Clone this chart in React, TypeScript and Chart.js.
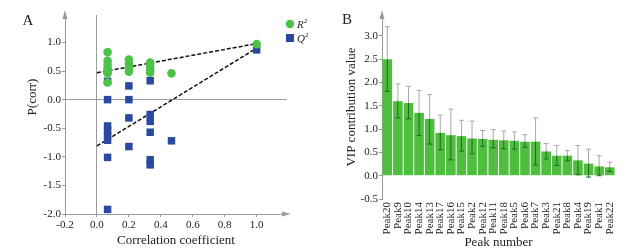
import React, { useEffect, useRef } from "react";
import { Chart, registerables } from "chart.js";
Chart.register(...registerables);

// ---------- Panel A data ----------
const r2X = [1/15, 1/15, 1/15, 1/15, 1/15, 1/15, 1/15, 0.2, 0.2, 0.2, 0.2, 1/3, 1/3, 1/3, 1/3, 7/15, 1];
const r2Y = [0.83, 0.68, 0.61, 0.55, 0.50, 0.46, 0.30, 0.70, 0.63, 0.55, 0.49, 0.65, 0.58, 0.52, 0.47, 0.46, 0.97];
const q2X = [1/15, 1/15, 1/15, 1/15, 1/15, 1/15, 1/15, 1/15, 0.2, 0.2, 0.2, 0.2, 1/3, 1/3, 1/3, 1/3, 1/3, 1/3, 7/15, 1];
const q2Y = [0.32, 0.0, -0.46, -0.54, -0.63, -0.71, -1.01, -1.92, 0.24, 0.0, -0.32, -0.82, 0.33, -0.26, -0.38, -0.57, -1.05, -1.14, -0.72, 0.87];
const r2LineX = [0, 1];
const r2LineY = [0.47, 0.98];
const q2LineX = [0, 1];
const q2LineY = [-0.81, 0.9];
const xTicksA = [-0.2, 0.0, 0.2, 0.4, 0.6, 0.8, 1.0];
const yTicksA = [-2.0, -1.5, -1.0, -0.5, 0.0, 0.5, 1.0];

// ---------- Panel B data ----------
const peaks = ["Peak20", "Peak9", "Peak10", "Peak14", "Peak13", "Peak17", "Peak16", "Peak15", "Peak2", "Peak12", "Peak11", "Peak18", "Peak5", "Peak6", "Peak7", "Peak3", "Peak21", "Peak8", "Peak4", "Peak19", "Peak1", "Peak22"];
const vip = [2.5, 1.6, 1.56, 1.35, 1.22, 0.92, 0.87, 0.85, 0.80, 0.79, 0.77, 0.76, 0.75, 0.73, 0.73, 0.52, 0.43, 0.43, 0.33, 0.26, 0.20, 0.18];
const vipUpper = [3.2, 1.97, 1.92, 1.83, 1.74, 1.3, 1.43, 1.19, 1.17, 0.97, 0.99, 0.96, 0.94, 0.88, 1.24, 0.69, 0.65, 0.54, 0.65, 0.57, 0.43, 0.29];
const vipLower = [1.81, 1.24, 1.22, 0.86, 0.68, 0.56, 0.34, 0.53, 0.47, 0.63, 0.6, 0.58, 0.57, 0.61, 0.23, 0.36, 0.22, 0.32, 0.02, -0.03, 0.0, 0.09];
const yTicksB = [-0.5, 0.0, 0.5, 1.0, 1.5, 2.0, 2.5, 3.0];

const SERIF = "'Liberation Serif', 'DejaVu Serif', serif";
const AXIS_GRAY = "#9a9a9a";
const TEXT = "#222222";
const GREEN_PT = "#4cc24a";
const BLUE_PT = "#2a4a9e";
const BAR_GREEN = "#4fbe3f";
const ERR_DARK = "#1f6a22";

function arrowPlugin(drawX: boolean) {
  return {
    id: "arrows",
    afterDraw(chart: any) {
      const { ctx, chartArea } = chart;
      ctx.save();
      ctx.fillStyle = AXIS_GRAY;
      ctx.strokeStyle = AXIS_GRAY;
      ctx.lineWidth = 1;
      const l = chartArea.left;
      ctx.beginPath();
      ctx.moveTo(l, chartArea.top - 5);
      ctx.lineTo(l - 2.5, chartArea.top + 4);
      ctx.lineTo(l + 2.5, chartArea.top + 4);
      ctx.closePath();
      ctx.fill();
      if (drawX) {
        const b = chartArea.bottom;
        const r = chartArea.right;
        ctx.beginPath();
        ctx.moveTo(r + 4, b);
        ctx.lineTo(r - 5, b - 2.5);
        ctx.lineTo(r - 5, b + 2.5);
        ctx.closePath();
        ctx.fill();
      }
      ctx.restore();
    },
  };
}

function textPlugin(items: { text: string; x: number; y: number; size: number; rot?: number }[]) {
  return {
    id: "texts",
    afterDraw(chart: any) {
      const { ctx } = chart;
      ctx.save();
      ctx.fillStyle = TEXT;
      ctx.textAlign = "center";
      ctx.textBaseline = "middle";
      for (const it of items) {
        ctx.save();
        ctx.translate(it.x, it.y);
        if (it.rot) ctx.rotate(it.rot);
        ctx.font = `${it.size}px ${SERIF}`;
        ctx.fillText(it.text, 0, 0);
        ctx.restore();
      }
      ctx.restore();
    },
  };
}

const legendPlugin = {
  id: "legendA",
  afterDraw(chart: any) {
    const { ctx } = chart;
    ctx.save();
    const items = [
      { label: chart.data.datasets[0].label, color: GREEN_PT, shape: "circle", y: 24 },
      { label: chart.data.datasets[1].label, color: BLUE_PT, shape: "rect", y: 38 },
    ];
    for (const it of items) {
      ctx.fillStyle = it.color;
      if (it.shape === "circle") {
        ctx.beginPath();
        ctx.arc(290, it.y, 4.2, 0, Math.PI * 2);
        ctx.fill();
      } else {
        ctx.fillRect(286, it.y - 4, 8, 8);
      }
      ctx.fillStyle = TEXT;
      ctx.textBaseline = "middle";
      ctx.textAlign = "left";
      ctx.font = `italic 11px ${SERIF}`;
      const main = it.label.charAt(0);
      ctx.fillText(main, 297, it.y + 1);
      const w = ctx.measureText(main).width;
      ctx.font = `7px ${SERIF}`;
      ctx.fillText("2", 297 + w, it.y - 3);
    }
    ctx.restore();
  },
};

const errorBarPlugin = {
  id: "errorBars",
  afterDatasetsDraw(chart: any) {
    const { ctx } = chart;
    const meta = chart.getDatasetMeta(0);
    const yScale = chart.scales.y;
    ctx.save();
    ctx.lineWidth = 1;
    meta.data.forEach((bar: any, i: number) => {
      const x = bar.x;
      const yTop = yScale.getPixelForValue(vip[i]);
      const yU = yScale.getPixelForValue(vipUpper[i]);
      const yL = yScale.getPixelForValue(vipLower[i]);
      const cap = 2.5;
      ctx.strokeStyle = "#a8a8a8";
      ctx.beginPath();
      ctx.moveTo(x, yTop);
      ctx.lineTo(x, yU);
      ctx.moveTo(x - cap, yU);
      ctx.lineTo(x + cap, yU);
      ctx.stroke();
      ctx.strokeStyle = ERR_DARK;
      ctx.beginPath();
      ctx.moveTo(x, yTop);
      ctx.lineTo(x, yL);
      ctx.moveTo(x - cap, yL);
      ctx.lineTo(x + cap, yL);
      ctx.stroke();
    });
    ctx.restore();
  },
};

export default function App() {
  const refA = useRef<HTMLCanvasElement>(null);
  const refB = useRef<HTMLCanvasElement>(null);

  useEffect(() => {
    const font = { family: SERIF, size: 11 };
    const chartA = new Chart(refA.current!, {
      type: "scatter",
      data: {
        datasets: [
          {
            label: "R2",
            data: r2X.map((x, i) => ({ x, y: r2Y[i] })),
            backgroundColor: GREEN_PT,
            borderColor: GREEN_PT,
            pointStyle: "circle",
            pointRadius: 4.3,
            borderWidth: 0,
          },
          {
            label: "Q2",
            data: q2X.map((x, i) => ({ x, y: q2Y[i] })),
            backgroundColor: BLUE_PT,
            borderColor: BLUE_PT,
            pointStyle: "rect",
            pointRadius: 5.3,
            borderWidth: 0,
          },
          {
            label: "R2 fit",
            type: "line",
            data: r2LineX.map((x, i) => ({ x, y: r2LineY[i] })),
            borderColor: "#111",
            borderWidth: 1.5,
            borderDash: [4, 2],
            pointRadius: 0,
            fill: false,
          } as any,
          {
            label: "Q2 fit",
            type: "line",
            data: q2LineX.map((x, i) => ({ x, y: q2LineY[i] })),
            borderColor: "#111",
            borderWidth: 1.5,
            borderDash: [4, 2],
            pointRadius: 0,
            fill: false,
          } as any,
        ],
      },
      options: {
        animation: false,
        responsive: false,
        maintainAspectRatio: false,
        layout: { padding: { left: 0, top: 15, right: 31, bottom: 0 } },
        plugins: { legend: { display: false }, tooltip: { enabled: false } },
        scales: {
          x: {
            type: "linear",
            min: -0.2,
            max: 1.19,
            afterBuildTicks: (ax: any) => {
              ax.ticks = xTicksA.map((v) => ({ value: v }));
            },
            afterFit: (s: any) => {
              s.height = 36;
            },
            ticks: {
              callback: (v: any) => Number(v).toFixed(1),
              font,
              color: TEXT,
              padding: 2,
              maxRotation: 0,
              autoSkip: false,
            },
            grid: {
              color: (c: any) => (c.tick && Math.abs(c.tick.value) < 1e-9 ? AXIS_GRAY : "rgba(0,0,0,0)"),
              tickColor: AXIS_GRAY,
              tickLength: 3,
              lineWidth: 1,
            },
            border: { display: true, color: AXIS_GRAY },
            title: {
              display: true,
              text: "Correlation coefficient",
              font: { family: SERIF, size: 13 },
              color: TEXT,
              padding: { top: 2, bottom: 2 },
            },
          },
          y: {
            type: "linear",
            min: -2.0,
            max: 1.48,
            afterBuildTicks: (ax: any) => {
              ax.ticks = yTicksA.map((v) => ({ value: v }));
            },
            afterFit: (s: any) => {
              s.width = 65;
            },
            ticks: {
              callback: (v: any) => Number(v).toFixed(1),
              font,
              color: TEXT,
              padding: 1,
              autoSkip: false,
            },
            grid: {
              color: (c: any) => (c.tick && Math.abs(c.tick.value) < 1e-9 ? AXIS_GRAY : "rgba(0,0,0,0)"),
              tickColor: AXIS_GRAY,
              tickLength: 3,
              lineWidth: 1,
            },
            border: { display: true, color: AXIS_GRAY },
          },
        },
      },
      plugins: [
        arrowPlugin(true),
        legendPlugin,
        textPlugin([
          { text: "A", x: 28, y: 21, size: 15 },
          { text: "P(corr)", x: 33, y: 97, size: 13, rot: -Math.PI / 2 },
        ]),
      ],
    } as any);

    const chartB = new Chart(refB.current!, {
      type: "bar",
      data: {
        labels: peaks,
        datasets: [
          {
            label: "VIP",
            data: vip,
            backgroundColor: BAR_GREEN,
            borderColor: "#d8d8d8",
            borderWidth: 0,
            barPercentage: 1,
            categoryPercentage: 0.91,
          },
        ],
      },
      options: {
        animation: false,
        responsive: false,
        maintainAspectRatio: false,
        layout: { padding: { left: 0, top: 15, right: 21, bottom: 0 } },
        plugins: { legend: { display: false }, tooltip: { enabled: false } },
        scales: {
          x: {
            type: "category",
            offset: true,
            afterFit: (s: any) => {
              s.height = 51;
            },
            ticks: {
              font,
              color: TEXT,
              minRotation: 90,
              maxRotation: 90,
              autoSkip: false,
              padding: 3,
            },
            grid: { display: false, drawTicks: false },
            border: { display: false },
            title: {
              display: true,
              text: "Peak number",
              font: { family: SERIF, size: 13 },
              color: TEXT,
              padding: { top: 0, bottom: 0 },
            },
          },
          y: {
            type: "linear",
            min: -0.5,
            max: 3.45,
            afterBuildTicks: (ax: any) => {
              ax.ticks = yTicksB.map((v) => ({ value: v }));
            },
            afterFit: (s: any) => {
              s.width = 64;
            },
            ticks: {
              callback: (v: any) => Number(v).toFixed(1),
              font,
              color: TEXT,
              padding: 1,
              autoSkip: false,
            },
            grid: {
              drawOnChartArea: false,
              tickColor: AXIS_GRAY,
              tickLength: 3,
            },
            border: { display: true, color: AXIS_GRAY },
            title: {
              display: true,
              text: "VIP contribution value",
              font: { family: SERIF, size: 13 },
              color: TEXT,
              padding: { top: 26, bottom: 26 },
            },
          },
        },
      },
      plugins: [arrowPlugin(false), errorBarPlugin, textPlugin([{ text: "B", x: 29, y: 20, size: 15 }])],
    } as any);

    return () => {
      chartA.destroy();
      chartB.destroy();
    };
  }, []);

  return (
    <div style={{ position: "fixed", left: 0, top: 0, width: 636, height: 250, background: "#fff" }}>
      <canvas ref={refA} width={318} height={250} style={{ position: "absolute", left: 0, top: 0, width: 318, height: 250 }} />
      <canvas ref={refB} width={318} height={250} style={{ position: "absolute", left: 318, top: 0, width: 318, height: 250 }} />
    </div>
  );
}
